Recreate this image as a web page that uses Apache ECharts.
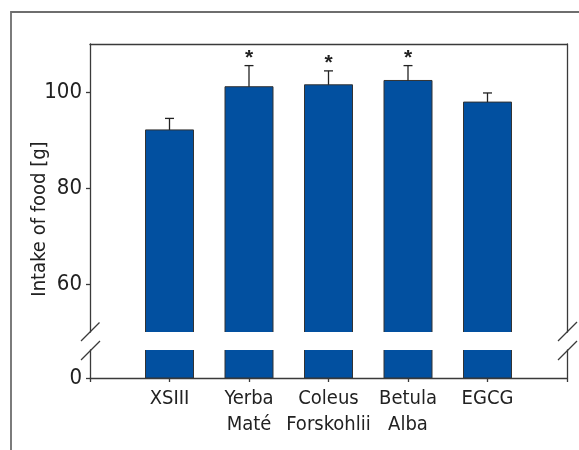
<!DOCTYPE html>
<html>
<head>
<meta charset="utf-8">
<script src="https://cdn.jsdelivr.net/npm/echarts@6/dist/echarts.min.js"></script>
<style>
html,body{margin:0;padding:0;background:#fff;}
#chart{width:579px;height:450px;}
</style>
</head>
<body>
<div id="chart"></div>
<script>
// ---- data ----
const categories = ['', 'XSIII', 'Yerba\nMaté', 'Coleus\nForskohlii', 'Betula\nAlba', 'EGCG', ''];
const means = [null, 92.1, 101.1, 101.5, 102.4, 97.9, null];
const errors = [null, 2.4, 4.4, 2.9, 3.1, 1.9, null];
const significant = [false, false, true, true, true, false, false];
const upperTicks = [60, 80, 100];
const lowerTicks = [0];
const yAxisTitle = 'Intake of food [g]';

const FONT = "'DejaVu Sans Condensed', 'Liberation Sans Narrow', sans-serif";
const INK = '#222';
const AXIS = '#3a3a3a';
const BAR = '#0250a0';

const barData = [];
const errData = [];
categories.forEach((c, i) => {
  if (means[i] != null) {
    barData.push([i, means[i]]);
    errData.push([i, means[i], means[i] + errors[i], significant[i] ? 1 : 0]);
  }
});

function renderBar(params, api) {
  const top = api.coord([api.value(0), api.value(1)]);
  const base = api.coord([api.value(0), 0]);
  const w = 48;
  return {
    type: 'rect',
    shape: { x: top[0] - w / 2, y: top[1], width: w, height: base[1] - top[1] },
    style: { fill: BAR, stroke: '#333', lineWidth: 1 }
  };
}

function renderErr(params, api) {
  const x = api.value(0);
  const p0 = api.coord([x, api.value(1)]);
  const p1 = api.coord([x, api.value(2)]);
  const children = [
    { type: 'line', shape: { x1: p0[0], y1: p0[1], x2: p1[0], y2: p1[1] }, style: { stroke: INK, lineWidth: 1.3 } },
    { type: 'line', shape: { x1: p1[0] - 4.5, y1: p1[1], x2: p1[0] + 4.5, y2: p1[1] }, style: { stroke: INK, lineWidth: 1.3 } }
  ];
  if (api.value(3) === 1) {
    children.push({
      type: 'text',
      style: { text: '*', x: p1[0], y: p1[1] + 3, align: 'center', verticalAlign: 'bottom',
        font: "bold 21px 'Liberation Sans', Arial, sans-serif", fill: INK }
    });
  }
  return { type: 'group', children };
}

const axisLineStyle = { color: AXIS, width: 1.3 };

const option = {
  animation: false,
  backgroundColor: '#fff',
  textStyle: { fontFamily: FONT },
  grid: [
    { left: 90, right: 12, top: 44, height: 288 },
    { left: 90, right: 12, top: 350, height: 28 }
  ],
  xAxis: [
    { gridIndex: 0, type: 'category', data: categories, boundaryGap: false, position: 'top',
      axisLine: { show: true, onZero: false, lineStyle: axisLineStyle },
      axisTick: { show: false }, axisLabel: { show: false }, splitLine: { show: false } },
    { gridIndex: 1, type: 'category', data: categories, boundaryGap: false, position: 'bottom',
      axisLine: { show: true, onZero: false, lineStyle: axisLineStyle },
      axisTick: { show: true, length: 4, inside: false, interval: 0, lineStyle: { color: AXIS, width: 1.3 } },
      axisLabel: { interval: 0, fontFamily: FONT, fontSize: 20, lineHeight: 26, margin: 8, color: INK },
      splitLine: { show: false } }
  ],
  yAxis: [
    { gridIndex: 0, type: 'value', min: 50, max: 110, position: 'left',
      axisLine: { show: true, onZero: false, lineStyle: axisLineStyle },
      axisTick: { show: true, length: 4, customValues: upperTicks, lineStyle: { color: AXIS, width: 1.3 } },
      axisLabel: { customValues: upperTicks, fontFamily: FONT, fontSize: 22, margin: 8, color: INK },
      splitLine: { show: false } },
    { gridIndex: 0, type: 'value', min: 50, max: 110, position: 'right',
      axisLine: { show: true, onZero: false, lineStyle: axisLineStyle },
      axisTick: { show: false }, axisLabel: { show: false }, splitLine: { show: false } },
    { gridIndex: 1, type: 'value', min: 0, max: 10, position: 'left',
      axisLine: { show: true, onZero: false, lineStyle: axisLineStyle },
      axisTick: { show: true, length: 4, customValues: lowerTicks, lineStyle: { color: AXIS, width: 1.3 } },
      axisLabel: { customValues: lowerTicks, fontFamily: FONT, fontSize: 22, margin: 8, color: INK },
      splitLine: { show: false } },
    { gridIndex: 1, type: 'value', min: 0, max: 10, position: 'right',
      axisLine: { show: true, onZero: false, lineStyle: axisLineStyle },
      axisTick: { show: false }, axisLabel: { show: false }, splitLine: { show: false } }
  ],
  series: [
    { type: 'custom', xAxisIndex: 0, yAxisIndex: 0, data: barData, renderItem: renderBar, clip: true, z: 2 },
    { type: 'custom', xAxisIndex: 1, yAxisIndex: 2, data: barData, renderItem: renderBar, clip: true, z: 2 },
    { type: 'custom', xAxisIndex: 0, yAxisIndex: 0, data: errData, renderItem: renderErr, clip: false, z: 3 }
  ],
  graphic: [
    { type: 'rect', shape: { x: 11, y: 12, width: 700, height: 600 }, style: { fill: 'none', stroke: '#6e6e6e', lineWidth: 1.8 }, silent: true },
    { type: 'text', rotation: Math.PI / 2, x: 40, y: 219,
      style: { text: yAxisTitle, align: 'center', verticalAlign: 'middle', font: "20px " + FONT, fill: INK } },
    { type: 'line', shape: { x1: 81, y1: 341, x2: 99.5, y2: 322.5 }, style: { stroke: AXIS, lineWidth: 1.2 } },
    { type: 'line', shape: { x1: 81, y1: 360, x2: 100, y2: 341 }, style: { stroke: AXIS, lineWidth: 1.2 } },
    { type: 'line', shape: { x1: 558, y1: 341, x2: 577, y2: 322 }, style: { stroke: AXIS, lineWidth: 1.2 } },
    { type: 'line', shape: { x1: 558, y1: 360, x2: 577, y2: 341 }, style: { stroke: AXIS, lineWidth: 1.2 } }
  ]
};

const chart = echarts.init(document.getElementById('chart'), null, { renderer: 'canvas' });
chart.setOption(option);
</script>
</body>
</html>
